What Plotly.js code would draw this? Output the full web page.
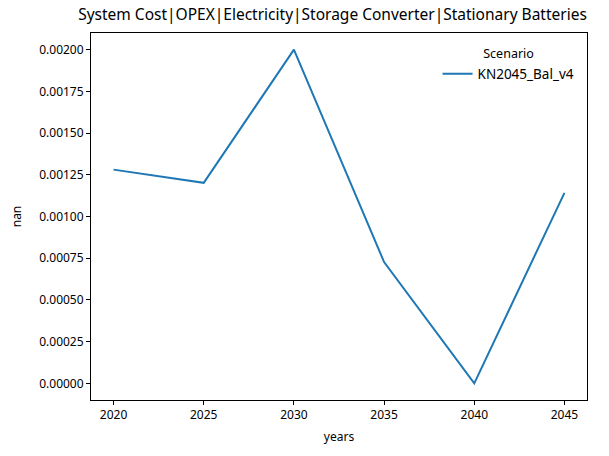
<!DOCTYPE html>
<html>
<head>
<meta charset="utf-8">
<script src="https://cdn.plot.ly/plotly-3.0.1.min.js"></script>
<style>html,body{margin:0;padding:0;background:#fff;}</style>
</head>
<body>
<div id="chart" style="width:609px;height:456px;"></div>
<script>
const years = [2020, 2025, 2030, 2035, 2040, 2045];
const values = [0.001281, 0.001202, 0.002, 0.000727, 0.0, 0.001142];
const seriesName = "KN2045_Bal_v4";
const yTicks = [0, 0.00025, 0.0005, 0.00075, 0.001, 0.00125, 0.0015, 0.00175, 0.002];

const font = "Noto Sans, DejaVu Sans, sans-serif";
const trace = {
  x: years, y: values, type: "scatter", mode: "lines", name: seriesName,
  line: {color: "#1f77b4", width: 2}
};
const axisCommon = {
  showline: true, mirror: true, linecolor: "#000", linewidth: 1,
  ticks: "outside", ticklen: 4, tickcolor: "#000", tickwidth: 1,
  showgrid: false, zeroline: false,
  tickfont: {family: font, size: 12, color: "#000"}
};
const layout = {
  width: 609, height: 456,
  margin: {l: 91, r: 22, t: 33, b: 56},
  paper_bgcolor: "#fff", plot_bgcolor: "#fff",
  font: {family: font, color: "#000"},
  title: {text: "System Cost|OPEX|Electricity|Storage Converter|Stationary Batteries",
          font: {family: font, size: 15.5, color: "#000"},
          x: 0.546, xanchor: "center", y: 0.98, yanchor: "top"},
  xaxis: Object.assign({}, axisCommon, {
    range: [2018.75, 2046.25], tickvals: years,
    title: {text: "years", font: {family: font, size: 12, color: "#000"}, standoff: 10}
  }),
  yaxis: Object.assign({}, axisCommon, {
    range: [-0.0001, 0.0021], tickvals: yTicks, tickformat: ".5f",
    title: {text: "nan", font: {family: font, size: 12, color: "#000"}, standoff: 14}
  }),
  showlegend: true,
  legend: {
    x: 0.985, xanchor: "right", y: 0.975, yanchor: "top",
    bgcolor: "rgba(255,255,255,0)", borderwidth: 0,
    title: {text: "Scenario", side: "top center", font: {family: font, size: 12.5, color: "#000"}},
    font: {family: font, size: 13.5, color: "#000"}
  }
};
Plotly.newPlot("chart", [trace], layout, {displayModeBar: false, staticPlot: true});
</script>
</body>
</html>
